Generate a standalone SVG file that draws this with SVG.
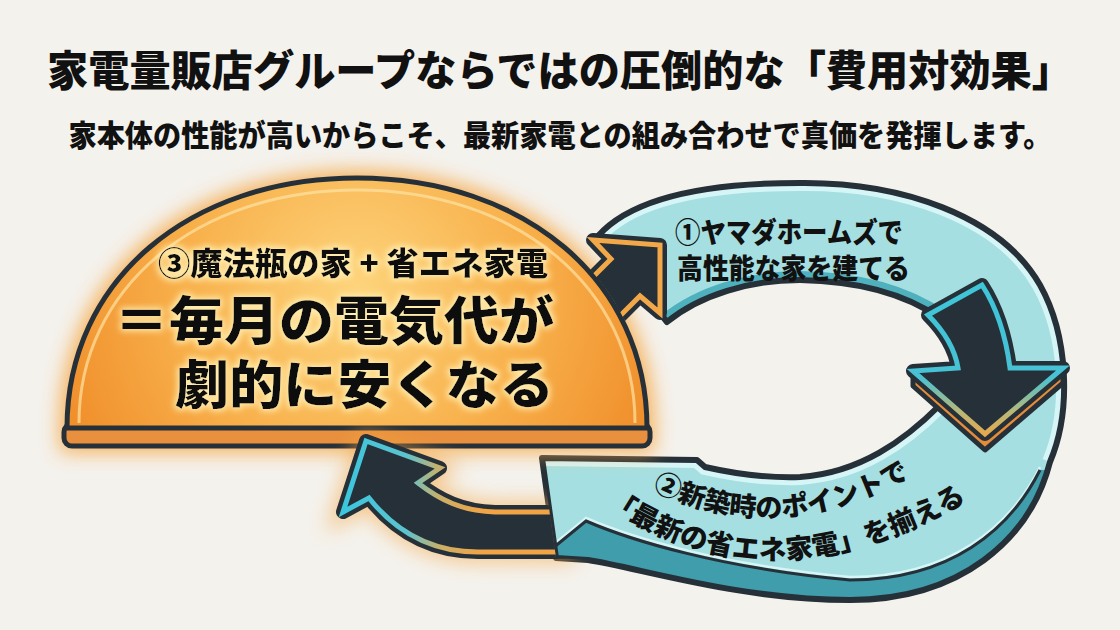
<svg xmlns="http://www.w3.org/2000/svg" width="1120" height="630" viewBox="0 0 1120 630">
<defs>
<style>
.t{font-family:"Noto Sans CJK JP","Noto Sans CJK SC",sans-serif;font-weight:900;fill:#111;}
.ol{stroke:#263038;stroke-linejoin:round;stroke-linecap:round;}
</style>
<radialGradient id="domeG" gradientUnits="userSpaceOnUse" cx="357" cy="290" r="310">
<stop offset="0" stop-color="#fdd47c"/><stop offset="0.55" stop-color="#f8b14c"/><stop offset="1" stop-color="#f0902c"/>
</radialGradient>
<linearGradient id="llG" gradientUnits="userSpaceOnUse" x1="345" y1="0" x2="480" y2="0">
<stop offset="0" stop-color="#3cc6de"/><stop offset="0.45" stop-color="#5cc3cf"/><stop offset="0.7" stop-color="#c9b06a"/><stop offset="1" stop-color="#f0a446"/>
</linearGradient>
<linearGradient id="daG" gradientUnits="userSpaceOnUse" x1="0" y1="300" x2="0" y2="440">
<stop offset="0" stop-color="#3fc4d8"/><stop offset="0.55" stop-color="#48c2d4"/><stop offset="0.8" stop-color="#b8b878"/><stop offset="1" stop-color="#f1a540"/>
</linearGradient>
<filter id="blur" x="-30%" y="-30%" width="160%" height="160%"><feGaussianBlur stdDeviation="10"/></filter>
<filter id="halo" x="-10%" y="-40%" width="120%" height="180%">
<feMorphology in="SourceAlpha" operator="dilate" radius="2" result="d"/>
<feGaussianBlur in="d" stdDeviation="3" result="b"/>
<feFlood flood-color="#fff0b4" flood-opacity="0.9"/>
<feComposite in2="b" operator="in" result="g"/>
<feMerge><feMergeNode in="g"/><feMergeNode in="SourceGraphic"/></feMerge>
</filter>
<path id="ringP" d="M 598,236 C 630,200 700,183 800,183 C 900,182 1000,215 1040,285 C 1068,335 1072,410 1050,462 C 1030,540 960,600 850,600 C 740,600 640,568 588,560 L 556,558 L 542,458 L 697,460 L 705,467 C 740,475 770,478 800,477 C 860,473 905,440 940,405 C 970,372 972,340 940,318 C 905,294 860,281 800,280 C 750,280 700,295 667,322 Z"/>
<clipPath id="ringClip"><use href="#ringP"/></clipPath>
<clipPath id="noDome"><path clip-rule="evenodd" d="M0,0 H1120 V630 H0 Z M 64,431 C 64,279 189,175 357,175 C 525,175 650,279 650,431 Z"/></clipPath>
<clipPath id="noRing"><path clip-rule="evenodd" d="M0,0 H1120 V630 H0 Z M 598,236 C 630,200 700,183 800,183 C 900,182 1000,215 1040,285 C 1068,335 1072,410 1050,462 C 1030,540 960,600 850,600 C 740,600 640,568 588,560 L 556,558 L 542,458 L 697,460 L 705,467 C 740,475 770,478 800,477 C 860,473 905,440 940,405 C 970,372 972,340 940,318 C 905,294 860,281 800,280 C 750,280 700,295 667,322 Z"/></clipPath>
<path id="p2a" d="M 652,489 Q 775,551 910,477"/>
<path id="p2b" d="M 605,505 Q 770,617 970,499"/>
</defs>

<rect width="1120" height="630" fill="#f4f2ed"/>

<g id="title">
<text class="t" x="560" y="86" font-size="42" text-anchor="middle" textLength="1026" lengthAdjust="spacingAndGlyphs">家電量販店グループならではの圧倒的な「費用対効果」</text>
<text class="t" x="560" y="146" font-size="30" text-anchor="middle" textLength="983" lengthAdjust="spacingAndGlyphs">家本体の性能が高いからこそ、最新家電との組み合わせで真価を発揮します。</text>
</g>

<g id="cycle-ring">
<use href="#ringP" fill="#a6dfe1"/>
<g clip-path="url(#ringClip)">
<path d="M 598,236 C 630,200 700,183 800,183 C 900,182 1000,215 1040,285 C 1068,335 1072,410 1050,462" fill="none" stroke="#d6f5f6" stroke-width="16"/>
<path d="M 542,458 L 697,460 L 705,467 C 740,475 770,478 800,477 C 860,473 905,440 940,405" fill="none" stroke="#d6f5f6" stroke-width="16"/>
<path d="M 667,322 C 700,295 750,280 800,280 C 860,281 905,294 940,318" fill="none" stroke="#4fb0be" stroke-width="18"/>
<path d="M 553,548 L 586,521 C 630,540 720,568 850,580 C 950,580 1010,530 1040,470 L 1090,470 L 1090,640 L 540,640 Z" fill="#3f9dac"/>
<path d="M 553,545 L 586,518 C 630,537 720,565 850,577 C 950,577 1010,527 1040,467" fill="none" stroke="#d6f5f6" stroke-width="2.5"/>
<path d="M 553,548 L 586,521 C 630,540 720,568 850,580 C 950,580 1010,530 1040,470" fill="none" stroke="#263038" stroke-width="3"/>
</g>
<use href="#ringP" fill="none" class="ol" stroke-width="6"/>
</g>

<g id="node-step1">
<text class="t" x="675" y="243" font-size="28" textLength="228" lengthAdjust="spacingAndGlyphs">①ヤマダホームズで</text>
<text class="t" x="677" y="279" font-size="28" textLength="233" lengthAdjust="spacingAndGlyphs">高性能な家を建てる</text>
</g>

<g id="node-step2">
<text class="t" font-size="27"><textPath href="#p2a">②新築時のポイントで</textPath></text>
<text class="t" font-size="27.5"><textPath href="#p2b">「最新の省エネ家電」を揃える</textPath></text>
</g>

<g id="node-step3">
<path d="M 67,428 C 67,280 190,178 357,178 C 524,178 647,280 647,428 L 647,445 L 67,445 Z" fill="#f6a744" stroke="#f6a744" stroke-width="14" filter="url(#blur)" opacity="0.9"/>
<rect x="64" y="424" width="586" height="22" rx="8" fill="#e8903e" class="ol" stroke-width="5"/>
<path d="M 67,428 C 67,280 190,178 357,178 C 524,178 647,280 647,428 Z" fill="url(#domeG)" class="ol" stroke-width="5"/>
<path d="M 79,423 C 79,288 197,190 357,190 C 517,190 635,288 635,423" fill="none" stroke="#fde2a2" stroke-width="3" opacity="0.7"/>
<g filter="url(#halo)">
<text class="t" x="158" y="275" font-size="32" textLength="390" lengthAdjust="spacingAndGlyphs">③魔法瓶の家 + 省エネ家電</text>
<text class="t" x="114" y="340" font-size="52" textLength="440" lengthAdjust="spacingAndGlyphs">＝毎月の電気代が</text>
<text class="t" x="175" y="404" font-size="52" textLength="379" lengthAdjust="spacingAndGlyphs">劇的に安くなる</text>
</g>
</g>

<g id="connectors">
<g id="arrow-3-to-1" clip-path="url(#noDome)">
<path d="M 593,240 L 660,245 L 660,313 L 640,296 L 598,338 L 570,300 L 611,259 Z" fill="none" class="ol" stroke-width="14"/>
<path d="M 593,240 L 660,245 L 660,313 L 640,296 L 598,338 L 570,300 L 611,259 Z" fill="#263038" stroke="#f2a848" stroke-width="5" stroke-linejoin="miter"/>
</g>
<g id="arrow-1-to-2">
<path d="M 913,371 L 913,386 L 985,450 L 1063,383 L 1063,368 L 985,434 Z" fill="#e48c3a" class="ol" stroke-width="5"/>
<path d="M 928,315 L 982,285 C 995,305 1005,330 1010,368 L 1063,368 L 985,434 L 913,371 L 958,368 C 955,350 945,332 928,315 Z" fill="none" class="ol" stroke-width="14"/>
<path d="M 928,315 L 982,285 C 995,305 1005,330 1010,368 L 1063,368 L 985,434 L 913,371 L 958,368 C 955,350 945,332 928,315 Z" fill="#263038" stroke="url(#daG)" stroke-width="5"/>
</g>
<g id="arrow-2-to-3" clip-path="url(#noRing)">
<path d="M 366,441 L 440,468 L 418,483 C 440,500 462,511 495,512 L 565,512 L 565,552 L 478,552 C 432,552 396,532 369,498 L 343,512 Z" fill="none" stroke="#f5a543" stroke-width="20" filter="url(#blur)" opacity="0.6"/>
<path d="M 366,441 L 440,468 L 418,483 C 440,500 462,511 495,512 L 565,512 L 565,552 L 478,552 C 432,552 396,532 369,498 L 343,512 Z" fill="none" class="ol" stroke-width="14"/>
<path d="M 366,441 L 440,468 L 418,483 C 440,500 462,511 495,512 L 565,512 L 565,552 L 478,552 C 432,552 396,532 369,498 L 343,512 Z" fill="#263038" stroke="url(#llG)" stroke-width="5"/>
</g>
</g>
</svg>
